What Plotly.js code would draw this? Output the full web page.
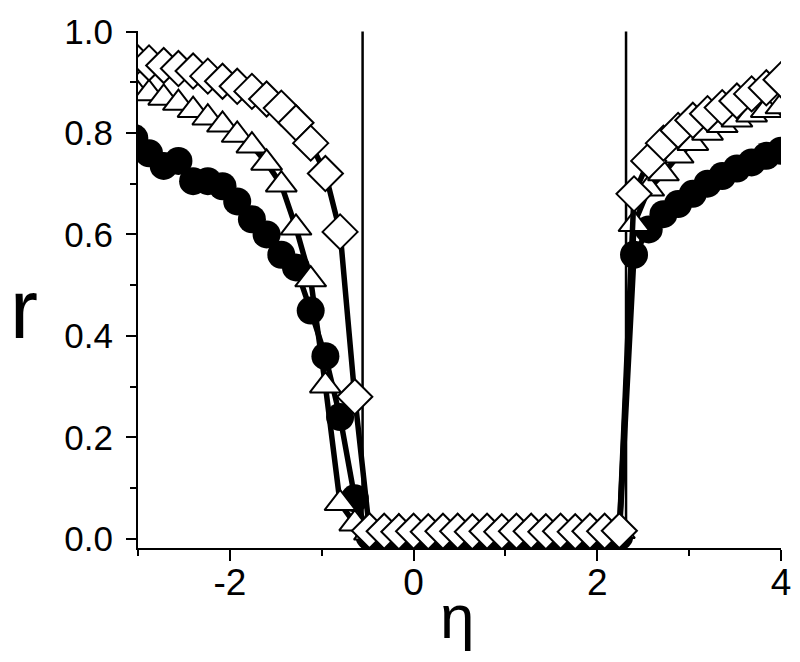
<!DOCTYPE html>
<html>
<head>
<meta charset="utf-8">
<script src="https://cdn.plot.ly/plotly-3.0.1.min.js"></script>
<style>html,body{margin:0;padding:0;background:#fff;}#chart{width:800px;height:662px;}</style>
</head>
<body>
<div id="chart"></div>
<script>
// eta values (x)
const eta = [-3.04, -2.88, -2.72, -2.56, -2.40, -2.24, -2.08, -1.92, -1.76, -1.60, -1.44, -1.28, -1.12, -0.96, -0.80, -0.64, -0.48,
  -0.32, -0.16, 0.00, 0.16, 0.32, 0.48, 0.64, 0.80, 0.96, 1.12, 1.28, 1.44, 1.60, 1.76, 1.92, 2.08, 2.24,
  2.40, 2.56, 2.72, 2.88, 3.04, 3.20, 3.36, 3.52, 3.68, 3.84, 4.00];

// filled circles
const rCircle = [0.79, 0.76, 0.735, 0.745, 0.705, 0.705, 0.695, 0.665, 0.63, 0.60, 0.56, 0.535, 0.45, 0.36, 0.24, 0.08, 0.005,
  0.005, 0.004, 0.005, 0.006, 0.004, 0.005, 0.005, 0.004, 0.006, 0.005, 0.004, 0.005, 0.005, 0.006, 0.004, 0.005, 0.005,
  0.56, 0.61, 0.64, 0.66, 0.68, 0.70, 0.715, 0.73, 0.742, 0.755, 0.765];

// open triangles
const rTriangle = [0.885, 0.878, 0.869, 0.859, 0.845, 0.830, 0.816, 0.796, 0.775, 0.741, 0.698, 0.613, 0.511, 0.302, 0.07, 0.03, 0.012,
  0.015, 0.022, 0.015, 0.016, 0.015, 0.022, 0.015, 0.016, 0.015, 0.015, 0.022, 0.016, 0.015, 0.015, 0.022, 0.016, 0.015,
  0.62, 0.69, 0.72, 0.755, 0.78, 0.80, 0.815, 0.826, 0.836, 0.845, 0.852];

// open diamonds
const rDiamond = [0.945, 0.938, 0.933, 0.927, 0.922, 0.912, 0.902, 0.892, 0.882, 0.867, 0.849, 0.820, 0.780, 0.720, 0.605, 0.28, 0.016,
  0.015, 0.014, 0.015, 0.014, 0.015, 0.015, 0.014, 0.015, 0.014, 0.015, 0.015, 0.014, 0.015, 0.014, 0.015, 0.015, 0.016,
  0.68, 0.745, 0.78, 0.805, 0.825, 0.838, 0.85, 0.863, 0.877, 0.889, 0.905];

// critical eta (vertical lines)
const etaCritical = [-0.555, 2.313];

const xTickVals = [-2, 0, 2, 4];
const yTickVals = [0.0, 0.2, 0.4, 0.6, 0.8, 1.0];
const xLabel = 'η';
const yLabel = 'r';

const FONT = '"Liberation Sans", Arial, Helvetica, sans-serif';
const lineStyle = {color: '#000', width: 5.5};

const traces = [
  {x: eta, y: rCircle, mode: 'lines+markers', line: lineStyle,
   marker: {symbol: 'circle', size: 28, color: '#000', line: {color: '#000', width: 0}}},
  {x: eta, y: rTriangle, mode: 'lines+markers', line: lineStyle,
   marker: {symbol: 'triangle-up', size: 27, color: '#fff', line: {color: '#000', width: 2}}},
  {x: eta, y: rDiamond, mode: 'lines+markers', line: lineStyle,
   marker: {symbol: 'diamond', size: 27, color: '#fff', line: {color: '#000', width: 2}}}
];

const shapes = etaCritical.map(v => ({
  type: 'line', xref: 'x', yref: 'y', x0: v, x1: v, y0: -0.02, y1: 1.0,
  line: {color: '#000', width: 2.5}, layer: 'below'
}));

const layout = {
  width: 800, height: 662,
  margin: {l: 138, r: 19, t: 31, b: 114},
  paper_bgcolor: '#fff', plot_bgcolor: '#fff',
  showlegend: false,
  font: {family: FONT, color: '#000'},
  xaxis: {
    range: [-3, 4], tickmode: 'array', tickvals: xTickVals, ticktext: xTickVals.map(String),
    ticks: 'outside', ticklen: 11, tickwidth: 2, tickcolor: '#000',
    showline: true, linewidth: 2, linecolor: '#000', mirror: false,
    showgrid: false, zeroline: false,
    tickfont: {family: FONT, size: 37, color: '#000'},
    ticklabelstandoff: -10,
    minor: {tickmode: 'linear', tick0: 0, dtick: 1, ticks: 'outside', ticklen: 6, tickwidth: 2, tickcolor: '#000', showgrid: false}
  },
  yaxis: {
    range: [-0.018, 1.001], tickmode: 'array', tickvals: yTickVals, ticktext: yTickVals.map(v => v.toFixed(1)),
    ticks: 'outside', ticklen: 10, tickwidth: 2, tickcolor: '#000',
    showline: true, linewidth: 2, linecolor: '#000', mirror: false,
    showgrid: false, zeroline: false,
    tickfont: {family: FONT, size: 35, color: '#000'},
    ticklabelstandoff: 6,
    minor: {tickmode: 'linear', tick0: 0, dtick: 0.1, ticks: 'outside', ticklen: 6, tickwidth: 2, tickcolor: '#000', showgrid: false}
  },
  shapes: shapes,
  annotations: [
    {text: yLabel, xref: 'paper', yref: 'paper', x: -0.178, y: 0.462, xanchor: 'center', yanchor: 'middle',
     showarrow: false, font: {family: FONT, size: 84, color: '#000'}},
    {text: xLabel, xref: 'paper', yref: 'paper', x: 0.496, y: -0.132, xanchor: 'center', yanchor: 'middle',
     showarrow: false, font: {family: FONT, size: 62, color: '#000'}}
  ]
};

Plotly.newPlot('chart', traces, layout, {staticPlot: true, displayModeBar: false});
</script>
</body>
</html>
